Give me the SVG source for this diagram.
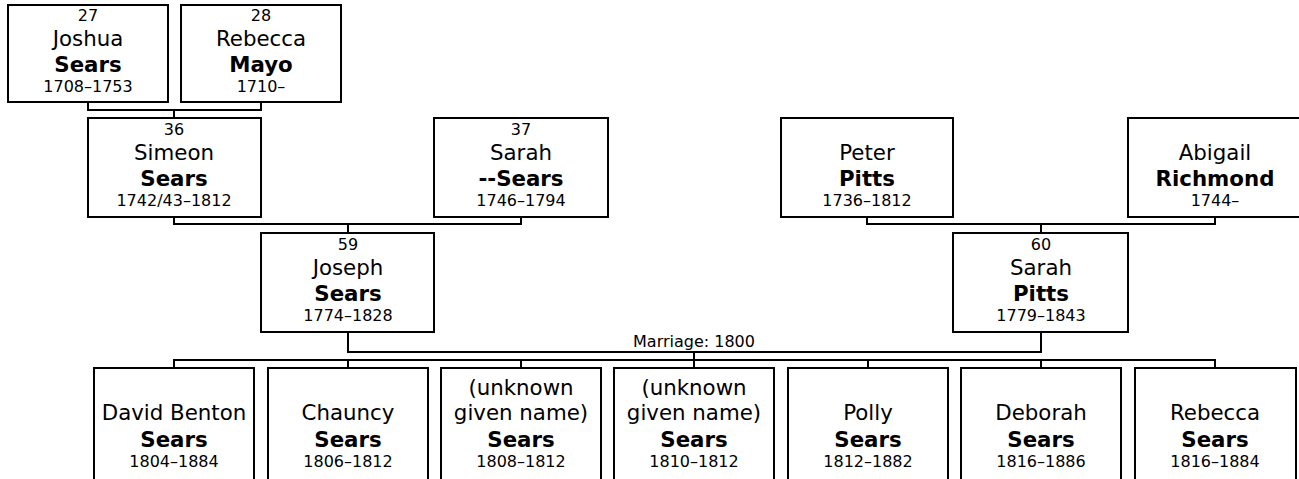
<svg xmlns="http://www.w3.org/2000/svg" width="1299" height="479" viewBox="0 0 1299 479">
<style>
.box{fill:#fff;stroke:#000;stroke-width:2}
.ln{fill:none;stroke:#000;stroke-width:2}
text{font-family:"DejaVu Sans",Verdana,sans-serif;text-anchor:middle;fill:#000}
.n{font-size:21.33px}
.b{font-size:21.33px;font-weight:bold}
.s{font-size:16px}
</style>
<rect x="0" y="0" width="1299" height="479" fill="#fff"/>
<g id="connectors">
<path class="ln" d="M88,102 V110 H261 V102 M174,110 V118"/>
<path class="ln" d="M174,217 V224 H521 V217 M348,224 V233"/>
<path class="ln" d="M867,217 V224 H1215 V217 M1041,224 V233"/>
<path class="ln" d="M348,332 V352 H1041 V332 M694,352 V360"/>
<path class="ln" d="M174,368 V360 H1215 V368 M348,360 V368 M521,360 V368 M694,360 V368 M868,360 V368 M1041,360 V368"/>
<text class="s" x="694" y="347">Marriage: 1800</text>
</g>
<g id="p27"><rect class="box" x="8" y="5" width="160" height="97"/>
<text class="s" x="88" y="21">27</text><text class="n" x="88" y="46">Joshua</text><text class="b" x="88" y="72">Sears</text><text class="s" x="88" y="92">1708–1753</text></g>
<g id="p28"><rect class="box" x="181" y="5" width="160" height="97"/>
<text class="s" x="261" y="21">28</text><text class="n" x="261" y="46">Rebecca</text><text class="b" x="261" y="72">Mayo</text><text class="s" x="261" y="92">1710–</text></g>
<g id="p36"><rect class="box" x="88" y="118" width="173" height="99"/>
<text class="s" x="174" y="135">36</text><text class="n" x="174" y="160">Simeon</text><text class="b" x="174" y="186">Sears</text><text class="s" x="174" y="206">1742/43–1812</text></g>
<g id="p37"><rect class="box" x="434" y="118" width="174" height="99"/>
<text class="s" x="521" y="135">37</text><text class="n" x="521" y="160">Sarah</text><text class="b" x="521" y="186">--Sears</text><text class="s" x="521" y="206">1746–1794</text></g>
<g id="peter"><rect class="box" x="781" y="118" width="172" height="99"/>
<text class="n" x="867" y="160">Peter</text><text class="b" x="867" y="186">Pitts</text><text class="s" x="867" y="206">1736–1812</text></g>
<g id="abigail"><rect class="box" x="1128" y="118" width="174" height="99"/>
<text class="n" x="1215" y="160">Abigail</text><text class="b" x="1215" y="186">Richmond</text><text class="s" x="1215" y="206">1744–</text></g>
<g id="p59"><rect class="box" x="261" y="233" width="173" height="99"/>
<text class="s" x="348" y="250">59</text><text class="n" x="348" y="275">Joseph</text><text class="b" x="348" y="301">Sears</text><text class="s" x="348" y="321">1774–1828</text></g>
<g id="p60"><rect class="box" x="953" y="233" width="175" height="99"/>
<text class="s" x="1041" y="250">60</text><text class="n" x="1041" y="275">Sarah</text><text class="b" x="1041" y="301">Pitts</text><text class="s" x="1041" y="321">1779–1843</text></g>
<g id="c1"><rect class="box" x="94" y="368" width="160" height="130"/>
<text class="n" x="174" y="420">David Benton</text><text class="b" x="174" y="447">Sears</text><text class="s" x="174" y="467">1804–1884</text></g>
<g id="c2"><rect class="box" x="268" y="368" width="160" height="130"/>
<text class="n" x="348" y="420">Chauncy</text><text class="b" x="348" y="447">Sears</text><text class="s" x="348" y="467">1806–1812</text></g>
<g id="c3"><rect class="box" x="441" y="368" width="160" height="130"/>
<text class="n" x="521" y="395">(unknown</text><text class="n" x="521" y="420">given name)</text><text class="b" x="521" y="447">Sears</text><text class="s" x="521" y="467">1808–1812</text></g>
<g id="c4"><rect class="box" x="614" y="368" width="160" height="130"/>
<text class="n" x="694" y="395">(unknown</text><text class="n" x="694" y="420">given name)</text><text class="b" x="694" y="447">Sears</text><text class="s" x="694" y="467">1810–1812</text></g>
<g id="c5"><rect class="box" x="788" y="368" width="160" height="130"/>
<text class="n" x="868" y="420">Polly</text><text class="b" x="868" y="447">Sears</text><text class="s" x="868" y="467">1812–1882</text></g>
<g id="c6"><rect class="box" x="961" y="368" width="160" height="130"/>
<text class="n" x="1041" y="420">Deborah</text><text class="b" x="1041" y="447">Sears</text><text class="s" x="1041" y="467">1816–1886</text></g>
<g id="c7"><rect class="box" x="1135" y="368" width="161" height="130"/>
<text class="n" x="1215" y="420">Rebecca</text><text class="b" x="1215" y="447">Sears</text><text class="s" x="1215" y="467">1816–1884</text></g>
</svg>
